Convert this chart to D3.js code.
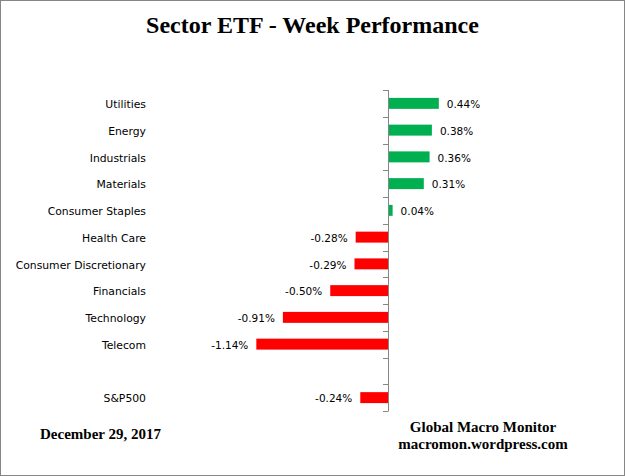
<!DOCTYPE html>
<html>
<head>
<meta charset="utf-8">
<script src="https://cdn.jsdelivr.net/npm/d3@7"></script>
<style>
    body { margin: 0; background: #fff; }
    svg { display: block; }
</style>
</head>
<body>
<div id="chart"></div>
<script>
// Sectors in display order, blank slot before the index row.
var categories = ['Utilities', 'Energy', 'Industrials', 'Materials', 'Consumer Staples',
    'Health Care', 'Consumer Discretionary', 'Financials', 'Technology', 'Telecom', '', 'S&P500'];

var values = [0.44, 0.38, 0.36, 0.31, 0.04, -0.28, -0.29, -0.50, -0.91, -1.14, null, -0.24];

var width = 625,
    height = 476;

var svg = d3.select('#chart').append('svg')
    .attr('width', width)
    .attr('height', height);

// Outer frame.
svg.append('rect')
    .attr('x', 0.5)
    .attr('y', 0.5)
    .attr('width', width - 1)
    .attr('height', height - 1)
    .style('fill', '#fff')
    .style('stroke', '#868686');

svg.append('text')
    .attr('x', 312.5)
    .attr('y', 33)
    .attr('text-anchor', 'middle')
    .style('font-family', 'Liberation Serif')
    .style('font-weight', 'bold')
    .style('font-size', '24px')
    .text('Sector ETF - Week Performance');

var x = d3.scaleLinear()
    .domain([-1.4, 0.8])
    .range([388 - 1.4 * 115.5, 388 + 0.8 * 115.5]);

var y = d3.scaleBand()
    .domain(categories)
    .range([90, 411])
    .paddingInner(0.59)
    .paddingOuter(0.295);

var data = categories.map(function (c, i) {
    return { name: c, value: values[i] };
});

// Category labels on the left.
svg.selectAll('text.cat')
    .data(data)
    .enter()
    .append('text')
    .attr('class', 'cat')
    .attr('x', 146)
    .attr('y', function (d) { return y(d.name) + y.bandwidth() / 2; })
    .attr('dy', '0.45em')
    .attr('text-anchor', 'end')
    .style('font-family', 'DejaVu Sans')
    .style('font-size', '10.8px')
    .text(function (d) { return d.name; });

var bars = data.filter(function (d) { return d.value !== null; });

svg.selectAll('rect.bar')
    .data(bars)
    .enter()
    .append('rect')
    .attr('class', 'bar')
    .attr('x', function (d) { return x(Math.min(0, d.value)); })
    .attr('y', function (d) { return y(d.name); })
    .attr('width', function (d) { return Math.abs(x(d.value) - x(0)); })
    .attr('height', y.bandwidth())
    .style('fill', function (d) { return d.value >= 0 ? '#00B050' : '#FF0000'; });

// Value labels beside each bar (plain hyphen for negatives).
svg.selectAll('text.val')
    .data(bars)
    .enter()
    .append('text')
    .attr('class', 'val')
    .attr('x', function (d) { return d.value >= 0 ? x(d.value) + 8 : x(d.value) - 8; })
    .attr('y', function (d) { return y(d.name) + y.bandwidth() / 2; })
    .attr('dy', '0.45em')
    .attr('text-anchor', function (d) { return d.value >= 0 ? 'start' : 'end'; })
    .style('font-family', 'DejaVu Sans')
    .style('font-size', '10.5px')
    .text(function (d) { return d.value.toFixed(2) + '%'; });

// Category axis at zero with ticks between bands.
var axis = svg.append('g').style('stroke', '#868686');

axis.append('line')
    .attr('x1', x(0) + 0.5)
    .attr('x2', x(0) + 0.5)
    .attr('y1', 90)
    .attr('y2', 411);

var tickYs = categories.map(function (c) { return y(c) - y.step() * y.paddingInner() / 2; });
tickYs.push(411);

axis.selectAll('line.tick')
    .data(tickYs)
    .enter()
    .append('line')
    .attr('class', 'tick')
    .attr('x1', x(0) - 5)
    .attr('x2', x(0) + 0.5)
    .attr('y1', function (d) { return Math.round(d) + 0.5; })
    .attr('y2', function (d) { return Math.round(d) + 0.5; });

svg.append('text')
    .attr('x', 40)
    .attr('y', 439)
    .style('font-family', 'Liberation Serif')
    .style('font-weight', 'bold')
    .style('font-size', '15px')
    .text('December 29, 2017');

svg.append('text')
    .attr('x', 483)
    .attr('y', 432)
    .attr('text-anchor', 'middle')
    .style('font-family', 'Liberation Serif')
    .style('font-weight', 'bold')
    .style('font-size', '15px')
    .text('Global Macro Monitor');

svg.append('text')
    .attr('x', 483)
    .attr('y', 448.5)
    .attr('text-anchor', 'middle')
    .style('font-family', 'Liberation Serif')
    .style('font-weight', 'bold')
    .style('font-size', '15px')
    .text('macromon.wordpress.com');
</script>
</body>
</html>
